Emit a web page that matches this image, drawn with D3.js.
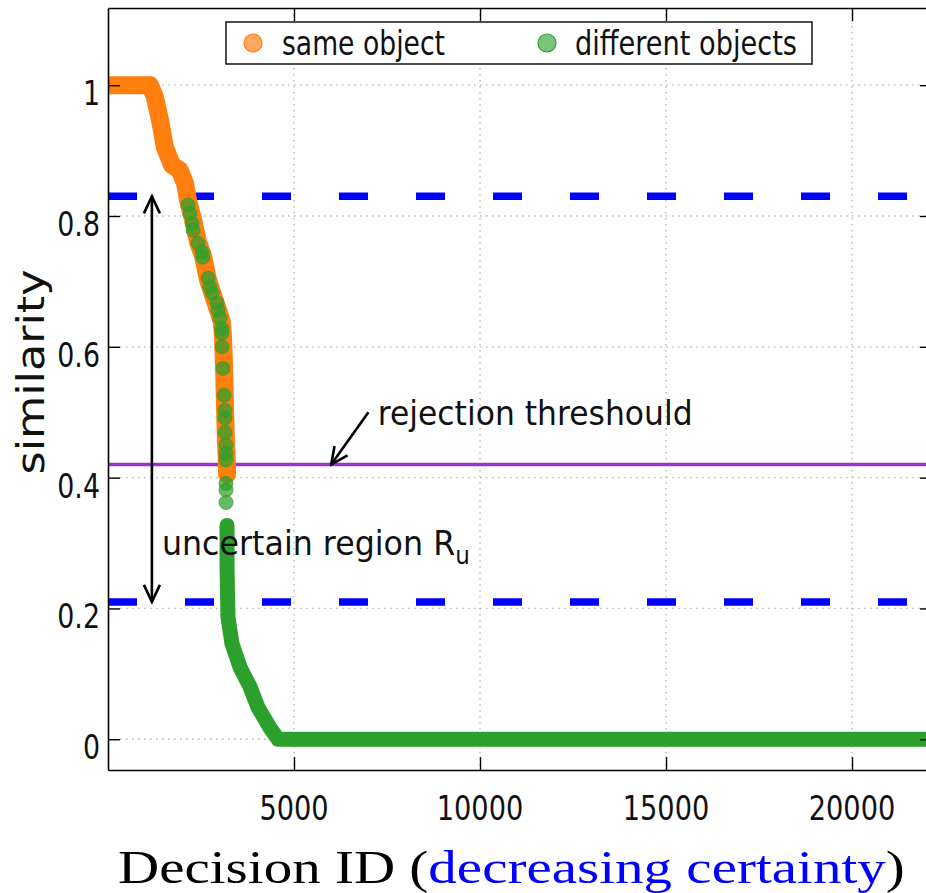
<!DOCTYPE html>
<html>
<head>
<meta charset="utf-8">
<script src="https://d3js.org/d3.v7.min.js"></script>
<style>
  html, body { margin: 0; padding: 0; background: #fff; }
  svg { display: block; }
  .grid line { stroke: #b4b4b4; stroke-width: 1.3; stroke-dasharray: 1.5 4.5; }
  .sans { font-family: "DejaVu Sans", sans-serif; fill: #111; }
</style>
</head>
<body>
<svg id="chart" width="926" height="893"></svg>
<script>
// ---- data ----
var xTicks = [5000, 10000, 15000, 20000];
var yTicks = [0, 0.2, 0.4, 0.6, 0.8, 1];
var yTickLabels = ["0", "0.2", "0.4", "0.6", "0.8", "1"];

// "same object" band (orange)
var sameX = [0, 1130, 1260, 1400, 1530, 1720, 1930, 2070, 2150, 2290, 2420, 2550, 2690, 2800, 2930, 3060, 3090, 3120, 3150, 3170, 3200, 3200];
var sameY = [1, 1, 0.982, 0.946, 0.905, 0.878, 0.87, 0.85, 0.824, 0.794, 0.76, 0.74, 0.702, 0.683, 0.661, 0.638, 0.618, 0.569, 0.498, 0.457, 0.419, 0.405];

// "different objects" single dots in the upper part (green)
var diffDotX = [2150, 2200, 2260, 2290, 2420, 2530, 2550, 2690, 2740, 2800, 2930, 2960, 3010, 3060, 3065, 3065, 3090, 3120, 3145, 3145, 3145, 3170, 3170, 3170, 3172, 3172, 3172];
var diffDotY = [0.817, 0.804, 0.789, 0.778, 0.758, 0.745, 0.737, 0.705, 0.691, 0.682, 0.667, 0.656, 0.644, 0.628, 0.621, 0.600, 0.567, 0.526, 0.503, 0.491, 0.469, 0.450, 0.437, 0.427, 0.391, 0.381, 0.362];

// "different objects" dense band (green)
var diffX = [3200, 3200, 3225, 3330, 3550, 3820, 4030, 4350, 4570, 22300];
var diffY = [0.327, 0.263, 0.187, 0.147, 0.110, 0.080, 0.049, 0.018, 0, 0];

var upperBound = 0.83, lowerBound = 0.21, rejection = 0.42;

// ---- layout ----
var svg = d3.select("#chart");
var pl = 108, pr = 932, pt = 8, pb = 770;
var x = d3.scaleLinear().domain([0, 22150]).range([pl, pr]);
var y = d3.scaleLinear().domain([-0.047, 1.118]).range([pb, pt]);

svg.append("rect").attr("width", 926).attr("height", 893).attr("fill", "#fff");

var defs = svg.append("defs");
defs.append("clipPath").attr("id", "plotclip")
  .append("rect").attr("x", pl).attr("y", pt).attr("width", pr - pl).attr("height", pb - pt);

defs.append("marker").attr("id", "vhead")
  .attr("markerUnits", "userSpaceOnUse")
  .attr("viewBox", "-20 -10 22 20").attr("markerWidth", 22).attr("markerHeight", 20)
  .attr("refX", 0).attr("refY", 0).attr("orient", "auto-start-reverse")
  .append("path").attr("d", "M-17,-8 L0,0 L-17,8")
  .attr("fill", "none").attr("stroke", "#000").attr("stroke-width", 2.6)
  .attr("stroke-linejoin", "miter");

// grid
var grid = svg.append("g").attr("class", "grid");
grid.selectAll(".gx").data(xTicks).enter().append("line")
  .attr("x1", function(d) { return x(d); }).attr("x2", function(d) { return x(d); })
  .attr("y1", pt).attr("y2", pb);
grid.selectAll(".gy").data(yTicks).enter().append("line")
  .attr("x1", pl).attr("x2", pr)
  .attr("y1", function(d) { return y(d); }).attr("y2", function(d) { return y(d); });

// plot content
var plot = svg.append("g").attr("clip-path", "url(#plotclip)");

function hline(v, color, width, dash) {
  var l = plot.append("line")
    .attr("x1", pl).attr("x2", pr)
    .attr("y1", y(v)).attr("y2", y(v))
    .attr("stroke", color).attr("stroke-width", width);
  if (dash) l.attr("stroke-dasharray", dash);
}
hline(upperBound, "#0000ff", 7.5, "29 48");
hline(lowerBound, "#0000ff", 7.5, "29 48");
hline(rejection, "#9b30d6", 3.5);

var line = d3.line().x(function(d) { return x(d[0]); }).y(function(d) { return y(d[1]); });

plot.append("path")
  .datum(d3.zip(sameX, sameY))
  .attr("d", line)
  .attr("fill", "none").attr("stroke", "#ff7f0e").attr("stroke-width", 18)
  .attr("stroke-linecap", "round").attr("stroke-linejoin", "round");

plot.selectAll(".ddot").data(d3.zip(diffDotX, diffDotY)).enter().append("circle")
  .attr("cx", function(d) { return x(d[0]); })
  .attr("cy", function(d) { return y(d[1]); })
  .attr("r", 7)
  .attr("fill", "#2ca02c").attr("fill-opacity", 0.72)
  .attr("stroke", "#2ca02c").attr("stroke-opacity", 0.72).attr("stroke-width", 1);

plot.append("path")
  .datum(d3.zip(diffX, diffY))
  .attr("d", line)
  .attr("fill", "none").attr("stroke", "#2ca02c").attr("stroke-width", 15)
  .attr("stroke-linecap", "round").attr("stroke-linejoin", "round");

// axes (inward ticks, labels drawn separately)
function styleAxis(g) {
  g.select(".domain").attr("stroke", "#000").attr("stroke-width", 1.6);
  g.selectAll(".tick line").attr("stroke", "#000").attr("stroke-width", 1.4);
  g.selectAll(".tick text").remove();
}
svg.append("g").attr("transform", "translate(" + pl + ",0)")
  .call(d3.axisLeft(y).tickValues(yTicks).tickSize(-12).tickSizeOuter(0)).call(styleAxis);
svg.append("g").attr("transform", "translate(" + pr + ",0)")
  .call(d3.axisRight(y).tickValues(yTicks).tickSize(-12).tickSizeOuter(0)).call(styleAxis);
svg.append("g").attr("transform", "translate(0," + pb + ")")
  .call(d3.axisBottom(x).tickValues(xTicks).tickSize(-13).tickSizeOuter(0)).call(styleAxis);
svg.append("g").attr("transform", "translate(0," + pt + ")")
  .call(d3.axisTop(x).tickValues(xTicks).tickSize(-13).tickSizeOuter(0)).call(styleAxis);

// squash helper: narrow the sans text like the original
function squash(sel, k) {
  sel.each(function() {
    var w = this.getComputedTextLength();
    this.setAttribute("textLength", w * k);
    this.setAttribute("lengthAdjust", "spacingAndGlyphs");
  });
}

// tick labels
svg.selectAll(".ylab").data(yTicks).enter().append("text")
  .attr("class", "sans").attr("font-size", 34).attr("text-anchor", "end")
  .attr("x", 100).attr("y", function(d) { return y(d) + 20; })
  .text(function(d, i) { return yTickLabels[i]; })
  .call(squash, 0.79);
svg.selectAll(".xlab").data(xTicks).enter().append("text")
  .attr("class", "sans").attr("font-size", 34).attr("text-anchor", "middle")
  .attr("x", function(d) { return x(d); }).attr("y", 820)
  .text(function(d) { return d; })
  .call(squash, 0.8);

// annotations
svg.append("line")
  .attr("x1", x(1180)).attr("x2", x(1180))
  .attr("y1", y(upperBound)).attr("y2", y(lowerBound))
  .attr("stroke", "#000").attr("stroke-width", 2.6)
  .attr("marker-start", "url(#vhead)").attr("marker-end", "url(#vhead)");

svg.append("line")
  .attr("x1", x(7000)).attr("y1", y(0.5))
  .attr("x2", x(6000)).attr("y2", y(0.42))
  .attr("stroke", "#000").attr("stroke-width", 2.6)
  .attr("marker-end", "url(#vhead)");

svg.append("text").attr("class", "sans").attr("font-size", 34)
  .attr("x", x(7250)).attr("y", y(0.48))
  .text("rejection threshould")
  .attr("textLength", 315).attr("lengthAdjust", "spacingAndGlyphs");

var unc = svg.append("text").attr("class", "sans").attr("font-size", 33)
  .attr("x", x(1450)).attr("y", y(0.281));
unc.append("tspan").text("uncertain region R");
unc.append("tspan").attr("font-size", 24).attr("dy", 9).text("u");
(function() {
  var ax = x(1450), w = unc.node().getBBox().width, k = 308 / w;
  unc.attr("transform", "translate(" + ax + ",0) scale(" + k + ",1) translate(" + (-ax) + ",0)");
})();

// y label
svg.append("text").attr("class", "sans").attr("font-size", 37)
  .attr("text-anchor", "middle")
  .attr("transform", "translate(44,372) rotate(-90)")
  .text("similarity")
  .attr("textLength", 205).attr("lengthAdjust", "spacingAndGlyphs");

// x label
var xl = svg.append("text")
  .attr("font-family", "'Liberation Serif', 'Times New Roman', serif")
  .attr("font-size", 46).attr("fill", "#000")
  .attr("x", 118).attr("y", 883);
xl.append("tspan").text("Decision ID (");
xl.append("tspan").attr("fill", "#0000ff").text("decreasing certainty");
xl.append("tspan").text(")");
(function() {
  var w = xl.node().getBBox().width, k = 787 / w;
  xl.attr("transform", "translate(118,0) scale(" + k + ",1) translate(-118,0)");
})();

// legend
var leg = svg.append("g");
leg.append("rect").attr("x", 226).attr("y", 22).attr("width", 586).attr("height", 42)
  .attr("fill", "#fff").attr("stroke", "#222").attr("stroke-width", 1.6);
var legendNames = ["same object", "different objects"];
var legendColors = ["#ff7f0e", "#2ca02c"];
var legendFill = ["#ffa75e", "#7cc27c"];
var legendMarkX = [253, 547], legendTextX = [282, 575], legendTextW = [163, 222];
legendNames.forEach(function(name, i) {
  leg.append("circle").attr("cx", legendMarkX[i]).attr("cy", 43).attr("r", 9)
    .attr("fill", legendFill[i]).attr("stroke", legendColors[i]).attr("stroke-width", 1.2);
  leg.append("text").attr("class", "sans").attr("font-size", 34)
    .attr("x", legendTextX[i]).attr("y", 55).text(name)
    .attr("textLength", legendTextW[i]).attr("lengthAdjust", "spacingAndGlyphs");
});
</script>
</body>
</html>
